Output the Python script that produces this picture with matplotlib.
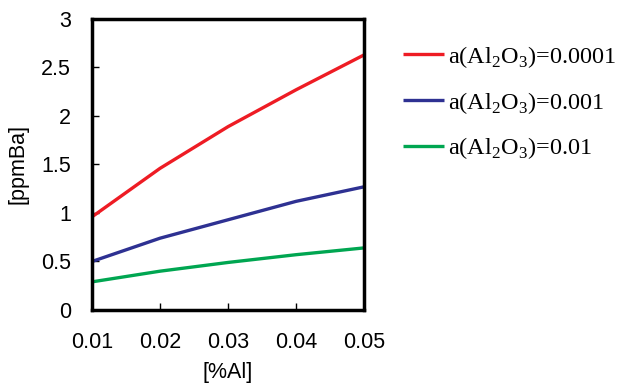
import matplotlib
matplotlib.use("Agg")
import matplotlib.pyplot as plt

# data
al = [0.01, 0.02, 0.03, 0.04, 0.05]
ba_1e4 = [0.96, 1.46, 1.89, 2.27, 2.63]
ba_1e3 = [0.50, 0.74, 0.93, 1.12, 1.27]
ba_1e2 = [0.29, 0.40, 0.49, 0.57, 0.64]
labels = ["a(Al$_2$O$_3$)=0.0001", "a(Al$_2$O$_3$)=0.001", "a(Al$_2$O$_3$)=0.01"]
colors = ["#ee1c24", "#2e3192", "#00a651"]

plt.rcParams["font.family"] = "Liberation Sans"
plt.rcParams["mathtext.fontset"] = "custom"
plt.rcParams["mathtext.rm"] = "Liberation Serif"

fig = plt.figure(figsize=(6.3, 3.87), dpi=100)
ax = fig.add_axes([0.146, 0.199, 0.432, 0.752])

for y, lab, c in zip([ba_1e4, ba_1e3, ba_1e2], labels, colors):
    ax.plot(al, y, color=c, lw=2.4, label=lab, solid_capstyle="butt")

ax.set_xlim(0.01, 0.05)
ax.set_ylim(0, 3)
ax.set_xticks(al)
ax.set_xticklabels(["0.01", "0.02", "0.03", "0.04", "0.05"])
ax.set_yticks([0, 0.5, 1, 1.5, 2, 2.5, 3])
ax.set_yticklabels(["0", "0.5", "1", "1.5", "2", "2.5", "3"])
ax.tick_params(axis="x", direction="in", length=5, width=1, labelsize=15.5, pad=16)
ax.tick_params(axis="y", direction="in", length=5, width=1, labelsize=15.5, pad=15)
for s in ax.spines.values():
    s.set_linewidth(2.5)

ax.set_xlabel("[%Al]", fontsize=15.5, labelpad=6)
ax.set_ylabel("[ppmBa]", fontsize=15.5, labelpad=9)

leg = ax.legend(loc="upper left", bbox_to_anchor=(1.063, 0.99), frameon=False,
                prop={"family": "Liberation Serif", "size": 17.5},
                handlelength=1.7, handletextpad=0.15, labelspacing=0.82)

fig.savefig("out.png", dpi=100)
